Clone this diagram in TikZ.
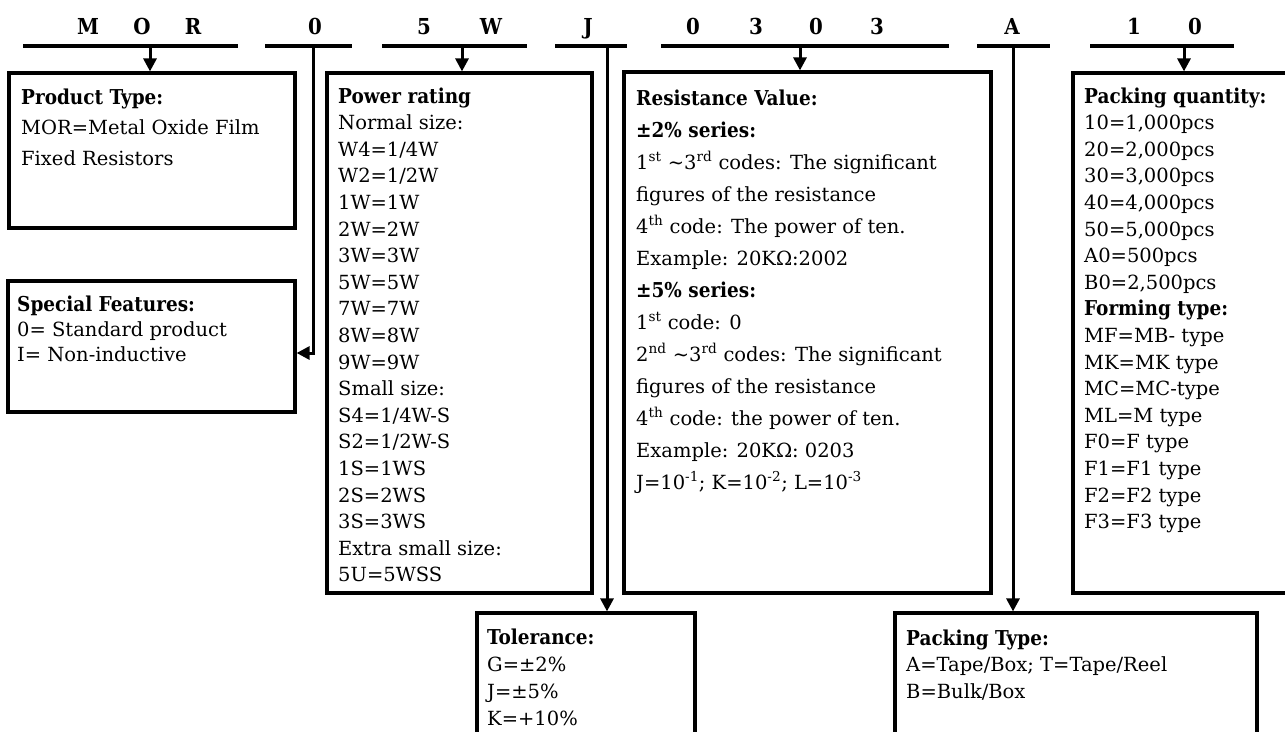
\documentclass[tikz,border=0pt]{standalone}
\usepackage{fontspec}
\setmainfont{DejaVu Serif}
\newfontfamily\headfont{DejaVu Serif Condensed}
\usetikzlibrary{arrows.meta,calc}

\newcommand{\hd}[1]{{\headfont\bfseries\fontsize{20.5}{24}\selectfont #1}}

\begin{document}
\begin{tikzpicture}[x=1pt,y=-1pt,>={Triangle[length=13pt,width=13pt]},
    bar/.style={line width=3.5pt},
    box/.style={draw,line width=3.2pt,inner sep=0pt},
    lead/.style={->,line width=3pt},
    code/.style={font=\headfont\bfseries\fontsize{22}{26}\selectfont,inner sep=0pt,anchor=base},
    boxtext/.style={anchor=base west,inner sep=0pt,align=left,font=\fontsize{19.5}{#1}\selectfont}]
    \useasboundingbox (0,0) rectangle (1285,731);

    % The code letters over their bars.
    \foreach \ch/\xx [count=\i] in {M/88,O/142,R/193,0/315,5/424,W/491,J/588,
        0/693,3/756,0/816,3/877,A/1012,1/1134,0/1195}
      \node[code] (c\i) at (\xx,34) {\ch};
    \draw[bar] (23,46) -- (238,46);
    \draw[bar] (265,46) -- (352,46);
    \draw[bar] (382,46) -- (527,46);
    \draw[bar] (555,46) -- (627,46);
    \draw[bar] (661,46) -- (949,46);
    \draw[bar] (977,46) -- (1050,46);
    \draw[bar] (1090,46) -- (1234,46);
    \coordinate (mor) at (150,46);
    \coordinate (feat) at (313,46);
    \coordinate (pow) at (462,46);
    \coordinate (tol) at (607,46);
    \coordinate (res) at (800,46);
    \coordinate (pack) at (1013,46);
    \coordinate (qty) at (1184,46);

    % The boxes.
    \node[box,minimum width=286pt,minimum height=155pt] (prodbox) at (152,150.5) {};
    \node[box,minimum width=287pt,minimum height=131pt] (featbox) at (151.5,346.5) {};
    \node[box,minimum width=265pt,minimum height=520pt] (powbox) at (459.5,333) {};
    \node[box,minimum width=367pt,minimum height=521pt] (resbox) at (807.5,332.5) {};
    \node[box,minimum width=227pt,minimum height=520pt] (qtybox) at (1186.5,333) {};
    \node[box,minimum width=218pt,minimum height=150pt] (tolbox) at (586,688) {};
    \node[box,minimum width=362pt,minimum height=150pt] (packbox) at (1076,688) {};

    % The texts in the boxes (placed by the baseline of their last line).
    \node[boxtext=30.5pt] (prodtext) at (21,165) {\hd{Product Type:}\\
      MOR=Metal Oxide Film\\Fixed Resistors};
    \node[boxtext=25pt] (feattext) at (17,361) {\hd{Special Features:}\\
      0= Standard product\\I= Non-inductive};
    \node[boxtext=26.6pt] (powtext) at (338,581.8) {\hd{Power rating}\\
      Normal size:\\W4=1/4W\\W2=1/2W\\1W=1W\\2W=2W\\3W=3W\\5W=5W\\7W=7W\\8W=8W\\9W=9W\\
      Small size:\\S4=1/4W-S\\S2=1/2W-S\\1S=1WS\\2S=2WS\\3S=3WS\\
      Extra small size:\\5U=5WSS};
    \node[boxtext=32pt] (restext) at (636,489) {\hd{Resistance Value:}\\
      \hd{±2\% series:}\\
      1\textsuperscript{st} ∼3\textsuperscript{rd} codes: The significant\\
      figures of the resistance\\
      4\textsuperscript{th} code: The power of ten.\\
      Example: 20KΩ:2002\\
      \hd{±5\% series:}\\
      1\textsuperscript{st} code: 0\\
      2\textsuperscript{nd} ∼3\textsuperscript{rd} codes: The significant\\
      figures of the resistance\\
      4\textsuperscript{th} code: the power of ten.\\
      Example: 20KΩ: 0203\\
      J=10\textsuperscript{-1}; K=10\textsuperscript{-2}; L=10\textsuperscript{-3}};
    \node[boxtext=26.6pt] (qtytext) at (1084,528.6) {\hd{Packing quantity:}\\
      10=1,000pcs\\20=2,000pcs\\30=3,000pcs\\40=4,000pcs\\50=5,000pcs\\
      A0=500pcs\\B0=2,500pcs\\
      \hd{Forming type:}\\
      MF=MB- type\\MK=MK type\\MC=MC-type\\ML=M type\\F0=F type\\
      F1=F1 type\\F2=F2 type\\F3=F3 type};
    \node[boxtext=27pt] (toltext) at (487,725) {\hd{Tolerance:}\\
      G=±2\%\\J=±5\%\\K=+10\%};
    \node[boxtext=26.5pt] (packtext) at (906,698) {\hd{Packing Type:}\\
      A=Tape/Box; T=Tape/Reel\\B=Bulk/Box};

    % The leaders from the bars to their boxes.
    \draw[lead] (mor) -- (mor |- prodbox.north);
    \draw[lead] (pow) -- (pow |- powbox.north);
    \draw[lead] (res) -- (res |- resbox.north);
    \draw[lead] (qty) -- (qty |- qtybox.north);
    \draw[lead] (tol) -- (tol |- tolbox.north);
    \draw[lead] (pack) -- (pack |- packbox.north);
    \draw[lead] (feat) |- ($(featbox.east)+(0,6.5)$);
  \end{tikzpicture}
\end{document}
